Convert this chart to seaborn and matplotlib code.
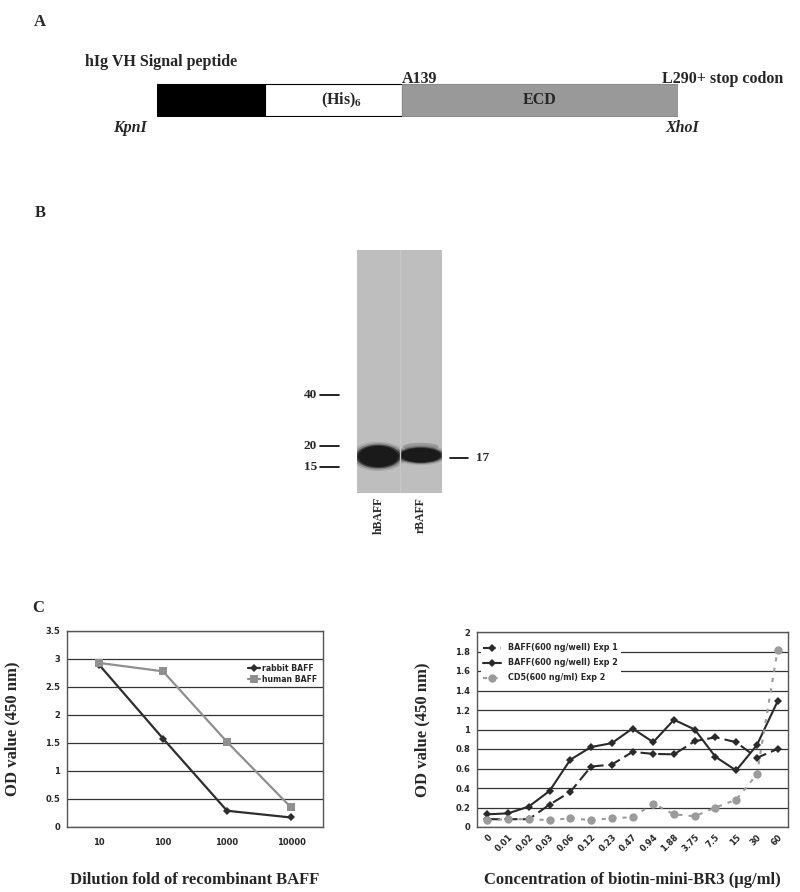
import numpy as np
import matplotlib
matplotlib.use('Agg')
import matplotlib.pyplot as plt
import matplotlib.transforms as mtransforms
from matplotlib.patches import Ellipse
import seaborn as sns

# Panel A: construct segments (relative lengths)
segment_names = ['hIg VH signal peptide', '(His)$_6$', 'ECD']
segment_len = [108, 137, 276]
segment_colors = ['black', 'white', '#999999']

# Panel B: gel lanes, bands and ladder (kDa)
lanes = ['hBAFF', 'rBAFF']
band_kda = [17.3, 17.6]
band_width = [1.05, 1.05]
band_height = [0.14, 0.095]
upper_band_kda = 19.8
ladder_kda = [40, 20, 15]
product_kda = 17

# Panel C left: dilution ELISA
dilution = ['10', '100', '1000', '10000']
rabbit_od = [2.90, 1.58, 0.29, 0.17]
human_od = [2.93, 2.78, 1.52, 0.35]

# Panel C right: biotin-mini-BR3 titration
conc = ['0', '0.01', '0.02', '0.03', '0.06', '0.12', '0.23', '0.47',
        '0.94', '1.88', '3.75', '7.5', '15', '30', '60']
baff_exp1 = [0.08, 0.08, 0.08, 0.23, 0.36, 0.62, 0.64, 0.77,
             0.75, 0.745, 0.88, 0.92, 0.87, 0.71, 0.80]
baff_exp2 = [0.13, 0.14, 0.21, 0.37, 0.69, 0.82, 0.86, 1.01,
             0.87, 1.10, 1.00, 0.72, 0.58, 0.84, 1.29]
cd5_exp2 = [0.07, 0.08, 0.08, 0.07, 0.09, 0.07, 0.09, 0.10,
            0.24, 0.13, 0.11, 0.20, 0.28, 0.54, 1.82]

sns.set_style('white')
plt.rcParams['font.family'] = ['DejaVu Sans']
plt.rcParams['mathtext.fontset'] = 'custom'
plt.rcParams['mathtext.rm'] = 'Liberation Serif:bold'
plt.rcParams['mathtext.default'] = 'rm'

SERIF = 'Liberation Serif'
W, H = 800, 892


def fx(px):
    return px / W


def fy(py):
    return 1 - py / H


def box(x0, y0, x1, y1):
    return [fx(x0), fy(y1), fx(x1) - fx(x0), fy(y0) - fy(y1)]


fig = plt.figure(figsize=(8, 8.92), dpi=100)

# ---------------- Panel A ----------------
fig.text(fx(40), fy(22), 'A', family=SERIF, weight='bold', fontsize=12, ha='center', va='center')
axA = fig.add_axes(box(157, 83, 678, 117))
starts = np.cumsum([0] + segment_len[:-1])
axA.barh(0, segment_len, left=starts, height=1, color=segment_colors,
         edgecolor=['black', 'black', '#8a8a8a'], linewidth=0.8)
axA.set_xlim(0, sum(segment_len))
axA.set_ylim(-0.53, 0.53)
axA.axis('off')
axA.text(starts[1] + segment_len[1] / 2 + 8, 0, segment_names[1], family=SERIF, weight='bold',
         fontsize=11.5, ha='center', va='center')
axA.text(starts[2] + segment_len[2] / 2, 0, segment_names[2], family=SERIF, weight='bold',
         fontsize=11.5, ha='center', va='center')
fig.text(fx(85), fy(62), 'hIg VH Signal peptide', family=SERIF, weight='bold', fontsize=11.5, va='center')
fig.text(fx(402), fy(79), 'A139', family=SERIF, weight='bold', fontsize=11.5, va='center')
fig.text(fx(662), fy(79), 'L290+ stop codon', family=SERIF, weight='bold', fontsize=11.5, va='center')
fig.text(fx(113), fy(128), 'KpnI', family=SERIF, weight='bold', style='italic', fontsize=11.5, va='center')
fig.text(fx(665), fy(128), 'XhoI', family=SERIF, weight='bold', style='italic', fontsize=11.5, va='center')

# ---------------- Panel B ----------------
fig.text(fx(40), fy(213), 'B', family=SERIF, weight='bold', fontsize=12, ha='center', va='center')
axB = fig.add_axes(box(357, 250, 442, 493))
axB.set_facecolor('#bebebe')
axB.set_xlim(-0.5, 1.5)
axB.set_ylim(1.02, 2.47)
for s in axB.spines.values():
    s.set_visible(False)
axB.axvline(0.5, color='#c8c8c8', lw=1.0)
axB.add_patch(Ellipse((1, np.log10(upper_band_kda)), 0.85, 0.045, color='#666666', alpha=0.4, lw=0))
for i, (kda, w, h) in enumerate(zip(band_kda, band_width, band_height)):
    y = np.log10(kda)
    for scale, alpha in [(1.25, 0.12), (1.12, 0.25), (1.0, 0.65), (0.9, 1.0)]:
        axB.add_patch(Ellipse((i, y), w * scale, h * scale, color='#1a1a1a', alpha=alpha, lw=0))
axB.set_yticks([])
axB.set_xticks(range(len(lanes)))
axB.set_xticklabels(lanes, rotation=90, family=SERIF, weight='bold', fontsize=8.5)
axB.tick_params(axis='x', length=0, pad=3)
tB = mtransforms.blended_transform_factory(axB.transAxes, axB.transData)
for kda in ladder_kda:
    y = np.log10(kda)
    axB.plot([-0.435, -0.212], [y, y], color='black', lw=1.2, transform=tB, clip_on=False)
    axB.text(-0.47, y, str(kda), transform=tB, family=SERIF, weight='bold', fontsize=9.5,
             ha='right', va='center')
yp = np.log10(product_kda)
axB.plot([1.094, 1.306], [yp, yp], color='black', lw=1.2, transform=tB, clip_on=False)
axB.text(1.4, yp, str(product_kda), transform=tB, family=SERIF, weight='bold', fontsize=9.5,
         ha='left', va='center')

# ---------------- Panel C ----------------
fig.text(fx(38), fy(608), 'C', family=SERIF, weight='bold', fontsize=12, ha='center', va='center')


def style_axes(ax, ymax, step):
    ax.set_ylim(0, ymax)
    ax.set_yticks(np.arange(0, ymax + step / 2, step))
    ax.set_yticklabels([f'{v:g}' for v in np.arange(0, ymax + step / 2, step)])
    ax.yaxis.grid(True, color='#333333', lw=0.9)
    ax.set_axisbelow(True)
    for s in ax.spines.values():
        s.set_color('#555555')
        s.set_linewidth(1.0)
    ax.tick_params(axis='y', direction='out', length=3, width=0.8, color='#555555', pad=2, labelsize=6)
    ax.tick_params(axis='x', length=0, labelsize=6)
    for lab in ax.get_xticklabels() + ax.get_yticklabels():
        lab.set_fontweight('bold')


axL = fig.add_axes(box(67, 631, 323, 827))
sns.lineplot(x=dilution, y=rabbit_od, sort=False, color='#2e2e2e', lw=1.6, marker='D',
             markersize=4, markeredgewidth=0, label='rabbit BAFF', ax=axL)
sns.lineplot(x=dilution, y=human_od, sort=False, color='#8f8f8f', lw=1.6, marker='s',
             markersize=5.5, markeredgewidth=0, label='human BAFF', ax=axL)
axL.set_xlim(-0.5, 3.5)
style_axes(axL, 3.5, 0.5)
axL.tick_params(axis='x', pad=8)
for lab in axL.get_xticklabels():
    lab.set_fontweight('bold')
axL.set_xlabel('Dilution fold of recombinant BAFF', family=SERIF, weight='bold', fontsize=12, labelpad=18)
axL.set_ylabel('OD value (450 nm)', family=SERIF, weight='bold', fontsize=12, labelpad=18)
legL = axL.legend(loc='upper right', bbox_to_anchor=(1.0, 0.86), fontsize=5.6, frameon=True,
                  facecolor='white', edgecolor='none', framealpha=1, handlelength=1.6,
                  handletextpad=0.3, labelspacing=0.25, borderpad=0.2)
for t in legL.get_texts():
    t.set_fontweight('bold')

axR = fig.add_axes(box(477, 632, 788, 827))
sns.lineplot(x=conc, y=baff_exp1, sort=False, color='#2a2a2a', lw=1.5, linestyle=(0, (6, 2.5)),
             marker='D', markersize=4, markeredgewidth=0, label='BAFF(600 ng/well) Exp 1', ax=axR)
sns.lineplot(x=conc, y=baff_exp2, sort=False, color='#2a2a2a', lw=1.5, marker='D',
             markersize=4, markeredgewidth=0, label='BAFF(600 ng/well) Exp 2', ax=axR)
sns.lineplot(x=conc, y=cd5_exp2, sort=False, color='#9b9b9b', lw=1.5, linestyle=(0, (2, 3)),
             marker='o', markersize=6, markeredgewidth=0, label='CD5(600 ng/ml) Exp 2', ax=axR)
axR.set_xlim(-0.5, len(conc) - 0.5)
style_axes(axR, 2.0, 0.2)
axR.set_xticks(range(len(conc)))
axR.set_xticklabels(conc, rotation=45, ha='right', rotation_mode='anchor', fontweight='bold')
axR.tick_params(axis='x', pad=4)
axR.set_xlabel('Concentration of biotin-mini-BR3 (μg/ml)', family=SERIF, weight='bold', fontsize=12,
               labelpad=13)
axR.set_ylabel('OD value (450 nm)', family=SERIF, weight='bold', fontsize=12, labelpad=18)
legR = axR.legend(loc='upper left', bbox_to_anchor=(0.0, 0.975), fontsize=5.8, frameon=True,
                  facecolor='white', edgecolor='none', framealpha=1, handlelength=2.2,
                  handletextpad=0.9, labelspacing=0.75, borderpad=0.3)
for t in legR.get_texts():
    t.set_fontweight('bold')

fig.savefig('out.png', dpi=100)
